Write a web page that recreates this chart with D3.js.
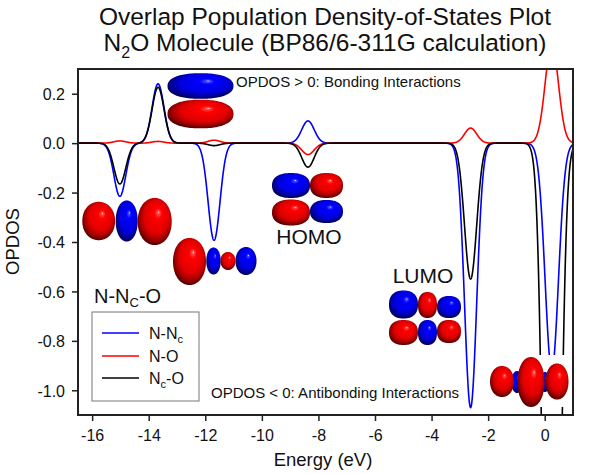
<!DOCTYPE html>
<html>
<head>
<meta charset="utf-8">
<script src="https://cdn.jsdelivr.net/npm/d3@7"></script>
<style>
  html, body { margin: 0; padding: 0; background: #fff; }
  svg { display: block; font-family: "Liberation Sans", Arial, sans-serif; }
</style>
</head>
<body>
<svg id="chart" width="600" height="474"></svg>
<script>
// ---- data ----
const peakEnergies = [-15.02, -13.67, -11.69, -8.37, -2.62, 0.25];   // eV
const opdosNNc     = [-0.215, 0.240, -0.393, 0.090, -1.07, -0.92];
const opdosNO      = [0.009, 0.007, 0.012, -0.046, 0.061, 0.40];
const opdosNcO     = [-0.165, 0.226, -0.010, -0.097, -0.55, -3.85];
const peakWidths   = [0.21, 0.21, 0.21, 0.22, 0.215, 0.235];         // Gaussian sigma (eV)
const xTicks = [-16, -14, -12, -10, -8, -6, -4, -2, 0];
const yTicks = [-1.0, -0.8, -0.6, -0.4, -0.2, 0.0, 0.2];

// ---- layout ----
const svg = d3.select("#chart");
const L = 78, R = 573, T = 69, B = 415;
const x = d3.scaleLinear().domain([-16.5, 1.0]).range([L, R]);
const y = d3.scaleLinear().domain([-1.1, 0.3]).range([B, T]);

// gradients for orbital lobes
const defs = svg.append("defs");
function grad(id, stops) {
  const g = defs.append("radialGradient").attr("id", id)
    .attr("cx", "52%").attr("cy", "45%").attr("r", "56%")
    .attr("fx", "62%").attr("fy", "30%");
  stops.forEach(s => g.append("stop").attr("offset", s[0]).attr("stop-color", s[1]));
}
grad("gRed", [["0%", "#ffd6d6"], ["6%", "#ff4848"], ["20%", "#ff0000"], ["64%", "#e00000"], ["85%", "#9a0000"], ["100%", "#500000"]]);
grad("gBlue", [["0%", "#d6d6ff"], ["6%", "#4848ff"], ["20%", "#0000ff"], ["64%", "#0000e0"], ["85%", "#00009a"], ["100%", "#000050"]]);

defs.append("clipPath").attr("id", "plotClip")
  .append("rect").attr("x", L).attr("y", T).attr("width", R - L).attr("height", B - T);

// ---- curves ----
const grid = d3.range(-16.5, 1.0001, 0.004);
function spectrum(amps) {
  return grid.map(e => {
    let v = 0;
    for (let i = 0; i < peakEnergies.length; i++) {
      const d = e - peakEnergies[i], s = peakWidths[i];
      v += amps[i] * Math.exp(-d * d / (2 * s * s));
    }
    return [e, v];
  });
}
const line = d3.line().x(d => x(d[0])).y(d => y(d[1]));
const curveG = svg.append("g").attr("clip-path", "url(#plotClip)");
[[opdosNNc, "#0000ff"], [opdosNO, "#ff0000"], [opdosNcO, "#000000"]].forEach(([amps, col]) => {
  curveG.append("path").datum(spectrum(amps))
    .attr("d", line).attr("fill", "none").attr("stroke", col).attr("stroke-width", 1.6);
});

// ---- orbital illustrations (decorative) ----
const orbitals = [
  { n: 2.3, lobes: [[200.5, 86, 33, 12.8, "B"], [200.5, 114, 33, 14.3, "R"]] },
  { n: 2.1, lobes: [[126.7, 221, 11, 20.5, "B"], [98.7, 221, 16.4, 19.2, "R"], [154.7, 221.5, 17, 23.5, "R"]] },
  { n: 2.1, lobes: [[213.5, 261, 7.2, 13.5, "B"], [246, 261, 10.5, 14, "B"], [228, 261, 7.5, 9, "R"], [189.5, 261.5, 16.5, 23.5, "R"]] },
  { n: 2.35, lobes: [[291, 185.5, 19, 12.5, "B"], [326.5, 185.5, 16.5, 12.5, "R"], [291, 212.5, 19, 13, "R"], [326.5, 211.5, 16.5, 11.5, "B"]] },
  { n: 2.35, lobes: [[403.5, 304.5, 14.5, 14, "B"], [427.5, 305, 9.5, 13, "R"], [449, 307, 12, 11, "B"],
            [403.5, 332.5, 14.5, 12.5, "R"], [427.5, 332.5, 9.5, 12.5, "B"], [449, 331.5, 12, 11.5, "R"]] },
  { n: 2.1, bg: [489, 355, 80, 52],
    lobes: [[517, 382, 5.5, 11, "B"], [545, 382, 4.5, 10, "B"], [502, 381.5, 12, 15.5, "R"],
            [557, 381.5, 11.5, 18, "R"], [531, 382, 13.5, 25, "R"]] }
];
function superEllipse(cx, cy, rx, ry, n) {
  const pts = d3.range(0, 2 * Math.PI, Math.PI / 60).map(t => {
    const c = Math.cos(t), s = Math.sin(t);
    return [cx + rx * Math.sign(c) * Math.pow(Math.abs(c), 2 / n),
            cy + ry * Math.sign(s) * Math.pow(Math.abs(s), 2 / n)];
  });
  return d3.line().curve(d3.curveLinearClosed)(pts);
}
const orbG = svg.append("g");
orbitals.forEach(o => {
  if (o.bg) orbG.append("rect").attr("x", o.bg[0]).attr("y", o.bg[1]).attr("width", o.bg[2]).attr("height", o.bg[3]).attr("fill", "#fff");
  o.lobes.forEach(l => {
    orbG.append("path").attr("d", superEllipse(l[0], l[1], l[2], l[3], o.n))
      .attr("fill", l[4] === "R" ? "url(#gRed)" : "url(#gBlue)");
  });
});

// ---- axes ----
const fmtX = d => String(d);
const fmtY = d => d.toFixed(1);
const xAx = svg.append("g").attr("transform", `translate(0,${B})`)
  .call(d3.axisBottom(x).tickValues(xTicks).tickFormat(fmtX).tickSize(6).tickPadding(9));
const yAx = svg.append("g").attr("transform", `translate(${L},0)`)
  .call(d3.axisLeft(y).tickValues(yTicks).tickFormat(fmtY).tickSize(6).tickPadding(7));
[xAx, yAx].forEach(a => {
  a.select(".domain").remove();
  a.selectAll(".tick line").attr("stroke", "#222").attr("stroke-width", 1.5);
  a.selectAll(".tick text").attr("fill", "#111").style("font-size", "16px")
    .style("font-family", '"Liberation Sans", Arial, sans-serif');
});
yAx.selectAll(".tick text").attr("dy", "0.36em");

// frame
svg.append("rect").attr("x", L).attr("y", T).attr("width", R - L).attr("height", B - T)
  .attr("fill", "none").attr("stroke", "#222").attr("stroke-width", 2);

// ---- texts ----
svg.append("text").attr("x", 325).attr("y", 25).attr("text-anchor", "middle")
  .style("font-size", "24.5px").attr("fill", "#111").text("Overlap Population Density-of-States Plot");
const t2 = svg.append("text").attr("x", 325).attr("y", 51).attr("text-anchor", "middle")
  .style("font-size", "24.5px").attr("fill", "#111");
t2.append("tspan").text("N");
t2.append("tspan").attr("dy", 7).style("font-size", "16px").text("2");
t2.append("tspan").attr("dy", -7).text("O Molecule (BP86/6-311G calculation)");

svg.append("text").attr("transform", "translate(19,241.5) rotate(-90)").attr("text-anchor", "middle")
  .style("font-size", "18.5px").attr("fill", "#111").text("OPDOS");
svg.append("text").attr("x", 323).attr("y", 466).attr("text-anchor", "middle")
  .style("font-size", "18.5px").attr("fill", "#111").text("Energy (eV)");

svg.append("text").attr("x", 236).attr("y", 87).style("font-size", "15px").attr("fill", "#111")
  .text("OPDOS > 0: Bonding Interactions");
svg.append("text").attr("x", 211).attr("y", 398).style("font-size", "15px").attr("fill", "#111")
  .text("OPDOS < 0: Antibonding Interactions");
svg.append("text").attr("x", 309).attr("y", 244).attr("text-anchor", "middle")
  .style("font-size", "21px").attr("fill", "#111").text("HOMO");
svg.append("text").attr("x", 423).attr("y", 283).attr("text-anchor", "middle")
  .style("font-size", "21px").attr("fill", "#111").text("LUMO");

const hdr = svg.append("text").attr("x", 94).attr("y", 302.5).style("font-size", "20px").attr("fill", "#111");
hdr.append("tspan").text("N-N");
hdr.append("tspan").attr("dy", 4).style("font-size", "13px").text("C");
hdr.append("tspan").attr("dy", -4).text("-O");

// ---- legend ----
const lg = svg.append("g");
lg.append("rect").attr("x", 92).attr("y", 312).attr("width", 107).attr("height", 89)
  .attr("fill", "#fff").attr("stroke", "#777").attr("stroke-width", 1);
const legendItems = [
  { parts: [["N-N", 0], ["c", 1]], color: "#0000ff", yy: 333 },
  { parts: [["N-O", 0]], color: "#ff0000", yy: 356 },
  { parts: [["N", 0], ["c", 1], ["-O", 0]], color: "#000000", yy: 378 }
];
legendItems.forEach(it => {
  lg.append("line").attr("x1", 102).attr("x2", 139).attr("y1", it.yy).attr("y2", it.yy)
    .attr("stroke", it.color).attr("stroke-width", 1.6);
  const tx = lg.append("text").attr("x", 149).attr("y", it.yy + 5.5).style("font-size", "16px").attr("fill", "#111");
  let sub = 0;
  it.parts.forEach(p => {
    const dy = p[1] === sub ? 0 : (p[1] ? 4 : -4);
    sub = p[1];
    tx.append("tspan").attr("dy", dy).style("font-size", p[1] ? "11px" : "16px").text(p[0]);
  });
});
</script>
</body>
</html>
